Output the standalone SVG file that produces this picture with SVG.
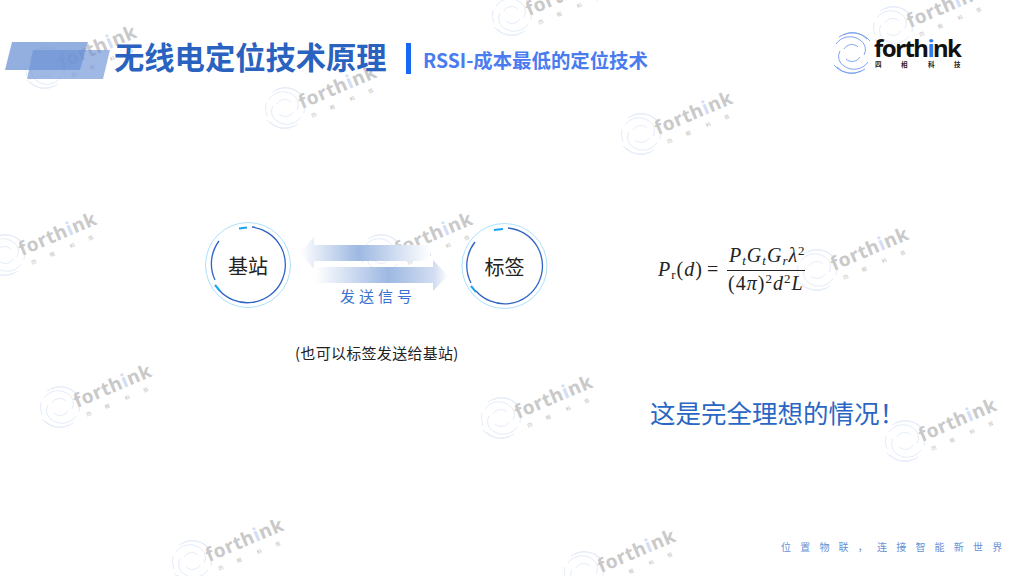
<svg xmlns="http://www.w3.org/2000/svg" width="1024" height="576" viewBox="0 0 1024 576">
<style>
.cjk{font-family:"Noto Sans CJK SC","Noto Sans",sans-serif}
.wm{font-family:"Noto Sans","DejaVu Sans",sans-serif;font-weight:700;font-size:19px;fill:#c9c9c9;letter-spacing:.6px}
.wms{font-family:"Noto Sans CJK SC",sans-serif;font-size:5px;fill:#bdbdbd}
.m{font-family:"Liberation Serif",serif;font-size:20px;fill:#222}
.mi{font-style:italic}
.sub{font-size:13px}
.sw{fill:none;stroke:#e4ecfa;stroke-width:1}
</style>
<defs>
<linearGradient id="gl" x1="0" x2="1" y1="0" y2="0"><stop offset="0" stop-color="#fff"/><stop offset=".45" stop-color="#9db8e2"/><stop offset="1" stop-color="#fff"/></linearGradient>
<linearGradient id="gr" x1="0" x2="1" y1="0" y2="0"><stop offset="0" stop-color="#fff"/><stop offset=".55" stop-color="#9db8e2"/><stop offset=".9" stop-color="#d3def2"/><stop offset="1" stop-color="#fff"/></linearGradient>
<g id="swirl">
<path class="sw" d="M-9-18A20 20 0 0 1 15-14M-13-16A23 23 0 0 1 18-12M-16-9A17 17 0 0 1 8-13A11 11 0 0 1 12 2"/>
<path class="sw" d="M9 18A20 20 0 0 1-15 14M13 16A23 23 0 0 1-18 12M16 9A17 17 0 0 1-8 13A11 11 0 0 1-12-2"/>
<path class="sw" d="M-8-4A9 9 0 0 1 6-6M8 4A9 9 0 0 1-6 6M-19-5A20 20 0 0 0-18 8M19 5A20 20 0 0 0 18-8"/>
</g>
<g id="mark">
<use href="#swirl"/>
<g transform="translate(17 1) rotate(-23)">
<text class="wm" x="0" y="0">forth<tspan fill="#d3def5">i</tspan>nk</text>
<text class="wms" x="6" y="12">四</text><text class="wms" x="26" y="12">相</text><text class="wms" x="48" y="12">科</text><text class="wms" x="68" y="12">技</text>
</g>
</g>
</defs>
<rect width="1024" height="576" fill="#fff"/>
<g id="watermarks">
<use href="#mark" x="45" y="68"/><use href="#mark" x="285" y="108"/><use href="#mark" x="512" y="15"/><use href="#mark" x="893" y="27"/><use href="#mark" x="641" y="134"/><use href="#mark" x="5" y="255"/><use href="#mark" x="381" y="255"/><use href="#mark" x="817" y="270"/><use href="#mark" x="60" y="407"/><use href="#mark" x="501" y="418"/><use href="#mark" x="905" y="441"/><use href="#mark" x="192" y="561"/><use href="#mark" x="584" y="572"/>
</g>
<g id="header">
<polygon points="12,42 88,42 80,70 5,70" fill="#6d94d6" fill-opacity=".75"/>
<polygon points="33,50 110,50 103,79 27,79" fill="#6d94d6" fill-opacity=".65"/>
<text class="cjk" x="114" y="69" font-size="30.300" font-weight="700" fill="#2a62bf">无线电定位技术原理</text>
<rect x="406" y="43" width="5" height="31" fill="#1769f2"/>
<text class="cjk" x="423" y="67.500" font-size="19.400" font-weight="700" fill="#4a7cf0">RSSI-成本最低的定位技术</text>
</g>
<g id="logo">
<g transform="translate(852 53)"><path d="M-9-18A20 20 0 0 1 15-14M-13-16A23 23 0 0 1 18-12M-16-9A17 17 0 0 1 8-13A11 11 0 0 1 12 2M9 18A20 20 0 0 1-15 14M13 16A23 23 0 0 1-18 12M16 9A17 17 0 0 1-8 13A11 11 0 0 1-12-2M-8-4A9 9 0 0 1 6-6M8 4A9 9 0 0 1-6 6" fill="none" stroke="#7ea4f3" stroke-width="1"/></g>
<text x="874" y="57" font-family="'Noto Sans',sans-serif" font-weight="700" font-size="24" fill="#111" textLength="88" lengthAdjust="spacing">forth<tspan fill="#2f7bf0">i</tspan>nk</text>
<g class="cjk" font-size="6.500" font-weight="700" fill="#222"><text x="875" y="66.500">四</text><text x="901" y="66.500">相</text><text x="928" y="66.500">科</text><text x="954" y="66.500">技</text></g>
</g>
<g id="connectors">
<path d="M300 253L314 237V245H430V261H314V269Z" fill="url(#gl)"/>
<path d="M315 267H433V260L448 275.500L433 291V283H315Z" fill="url(#gr)"/>
</g>
<g id="node-base">
<circle cx="248" cy="265" r="42.500" fill="none" stroke="#aee0fb" stroke-width="1"/>
<path d="M252 227A38 38 0 1 1 219 290" fill="none" stroke="#2f63c4" stroke-width="1.300"/>
<path d="M215 280A38 38 0 0 1 219 241" fill="none" stroke="#2f63c4" stroke-width="1.300"/>
<path d="M239 228.500L247 227.500M215 285L220 291" fill="none" stroke="#18a4f0" stroke-width="2"/>
<text class="cjk" x="248" y="274" font-size="20" text-anchor="middle" fill="#222">基站</text>
</g>
<g id="node-tag">
<circle cx="504.500" cy="266" r="42.500" fill="none" stroke="#aee0fb" stroke-width="1"/>
<path d="M508 228A38 38 0 1 1 476 291" fill="none" stroke="#2f63c4" stroke-width="1.300"/>
<path d="M471 283A38 38 0 0 1 475 242" fill="none" stroke="#2f63c4" stroke-width="1.300"/>
<path d="M494 230L503 229M471 286L476 292" fill="none" stroke="#18a4f0" stroke-width="2"/>
<text class="cjk" x="504.500" y="275" font-size="20" text-anchor="middle" fill="#222">标签</text>
</g>
<g id="labels">
<text class="cjk" x="340" y="302" font-size="15" letter-spacing="4" fill="#3a72cf">发送信号</text>
<text class="cjk" x="295" y="359" font-size="15" letter-spacing=".3" fill="#222">(也可以标签发送给基站)</text>
<text class="cjk" x="650" y="423" font-size="25.500" fill="#2a66c4">这是完全理想的情况！</text>
<text class="cjk" x="781" y="551" font-size="10" letter-spacing="9.200" fill="#6a90d4">位置物联，连接智能新世界</text>
</g>
<g id="formula">
<text class="m" x="658" y="276" letter-spacing="1"><tspan class="mi">P</tspan><tspan class="sub" dy="3">r</tspan><tspan dy="-3">(</tspan><tspan class="mi">d</tspan>)</text>
<text class="m" x="707" y="276">=</text>
<line x1="727" x2="805" y1="270.500" y2="270.500" stroke="#222"/>
<text class="m" x="729" y="262" letter-spacing="1"><tspan class="mi">P</tspan><tspan class="sub mi" dy="3">t</tspan><tspan class="mi" dy="-3">G</tspan><tspan class="sub mi" dy="3">t</tspan><tspan class="mi" dy="-3">G</tspan><tspan class="sub mi" dy="3">r</tspan><tspan class="mi" dy="-3">λ</tspan><tspan class="sub" dy="-7">2</tspan></text>
<text class="m" x="728" y="290" letter-spacing="1">(4<tspan class="mi">π</tspan>)<tspan class="sub" dy="-7">2</tspan><tspan class="mi" dy="7">d</tspan><tspan class="sub" dy="-7">2</tspan><tspan class="mi" dy="7">L</tspan></text>
</g>
</svg>
